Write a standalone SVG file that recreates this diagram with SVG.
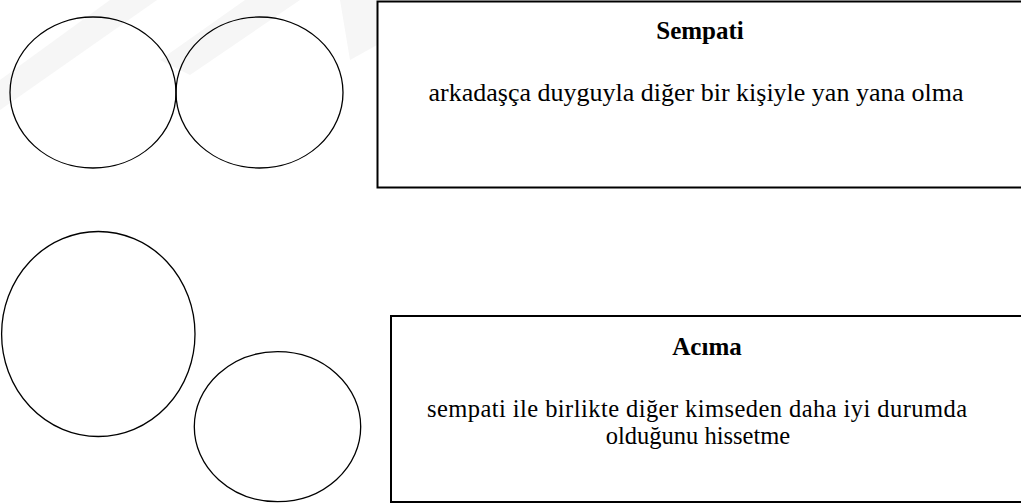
<svg xmlns="http://www.w3.org/2000/svg" width="1021" height="503" viewBox="0 0 1021 503">
  <style>
    .shape { fill: none; stroke: #000; stroke-width: 1.3; }
    .box { fill: #fff; stroke: #000; stroke-width: 2; }
    .title { font-family: "Liberation Serif", "Times New Roman", serif; font-weight: bold; font-size: 25px; fill: #000; text-anchor: middle; }
    .body { font-family: "Liberation Serif", "Times New Roman", serif; font-size: 26px; fill: #000; text-anchor: middle; }
    .body2 { font-family: "Liberation Serif", "Times New Roman", serif; font-size: 24.5px; fill: #000; text-anchor: middle; }
    .wm { fill: #f6f6f6; }
  </style>
  <rect width="1021" height="503" fill="#fff"/>
  <g id="watermark">
    <polygon class="wm" points="110,0 157,0 0,110 0,80"/>
    <polygon class="wm" points="245,0 300,0 190,75 160,60"/>
    <polygon class="wm" points="340,0 377,0 377,45 350,60"/>
  </g>
  <g id="circle-sempati-left">
    <ellipse class="shape" cx="93" cy="92.5" rx="83" ry="75.5"/>
  </g>
  <g id="circle-sempati-right">
    <ellipse class="shape" cx="259.5" cy="92.5" rx="83.5" ry="75.5"/>
  </g>
  <g id="circle-acima-big">
    <ellipse class="shape" cx="98.3" cy="334" rx="96.7" ry="102.5"/>
  </g>
  <g id="circle-acima-small">
    <ellipse class="shape" cx="277.5" cy="426.7" rx="83.2" ry="75"/>
  </g>
  <g id="box-sempati">
    <rect class="box" x="377.5" y="1.5" width="660" height="186"/>
    <text class="title" x="700" y="39">Sempati</text>
    <text class="body" x="696" y="101">arkadaşça duyguyla diğer bir kişiyle yan yana olma</text>
  </g>
  <g id="box-acima">
    <rect class="box" x="391" y="316" width="650" height="186"/>
    <text class="title" x="707" y="355">Acıma</text>
    <text class="body2" x="697" y="416.5" textLength="540" lengthAdjust="spacing">sempati ile birlikte diğer kimseden daha iyi durumda</text>
    <text class="body2" x="698" y="444">olduğunu hissetme</text>
  </g>
  <g id="connectors"/>
</svg>
